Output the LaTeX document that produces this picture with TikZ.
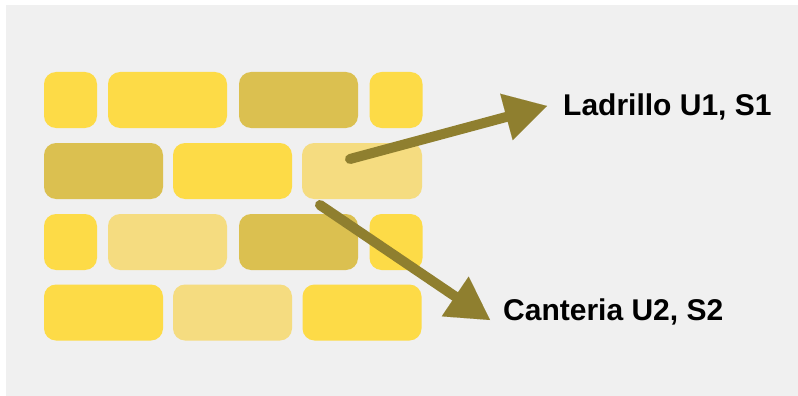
\documentclass[tikz,border=0pt]{standalone}
\usepackage{fontspec}
\setmainfont{Liberation Sans}
\usetikzlibrary{arrows.meta}
\definecolor{bg}{HTML}{F0F0F0}
\definecolor{bright}{HTML}{FDDB47}
\definecolor{darky}{HTML}{DBC050}
\definecolor{lighty}{HTML}{F5DC80}
\definecolor{arrowc}{HTML}{8F7F2F}
\tikzset{
  brick/.style={rectangle, rounded corners=12pt, inner sep=0pt, minimum height=56pt, draw=none},
  small/.style={brick, minimum width=53pt},
  wide/.style={brick, minimum width=119pt},
  pointer/.style={draw=arrowc, line width=10pt, line cap=round, -{Triangle[length=42pt,width=48pt,line width=0.01pt,sharp]}},
  label/.style={inner sep=0pt, anchor=base west, font=\fontsize{30}{36}\selectfont\bfseries, text=black}
}
\begin{document}
\begin{tikzpicture}[x=1pt,y=-1pt]
\useasboundingbox (0,0) rectangle (798,396);
\fill[white] (0,0) rectangle (798,396);
\fill[bg] (6,5) rectangle (798,396);
% row 1
\node[small, fill=bright] (r1c1) at (70.5,100) {};
\node[wide, fill=bright] (r1c2) at (167.5,100) {};
\node[wide, fill=darky] (r1c3) at (298.5,100) {};
\node[small, fill=bright] (r1c4) at (396,100) {};
% row 2
\node[wide, fill=darky] (r2c1) at (103.5,171) {};
\node[wide, fill=bright] (r2c2) at (232.5,171) {};
\node[wide, minimum width=120pt, fill=lighty] (r2c3) at (362,171) {};
% row 3
\node[small, fill=bright] (r3c1) at (70.5,242) {};
\node[wide, fill=lighty] (r3c2) at (167.5,242) {};
\node[wide, fill=darky] (r3c3) at (298.5,242) {};
\node[small, fill=bright] (r3c4) at (396,242) {};
% row 4
\node[wide, fill=bright] (r4c1) at (103.5,312.5) {};
\node[wide, fill=lighty] (r4c2) at (232.5,312.5) {};
\node[wide, fill=bright] (r4c3) at (362,312.5) {};
% labels
\node[label] (lad) at (563,115) {Ladrillo U1, S1};
\node[label] (can) at (503,320) {Canteria U2, S2};
% arrow ends
\coordinate (s1) at (350,159);
\coordinate (t1) at (547,106);
\coordinate (s2) at (320,205);
\coordinate (t2) at (490,320);
\draw[pointer] (s1) -- (t1);
\draw[pointer] (s2) -- (t2);
\end{tikzpicture}
\end{document}
